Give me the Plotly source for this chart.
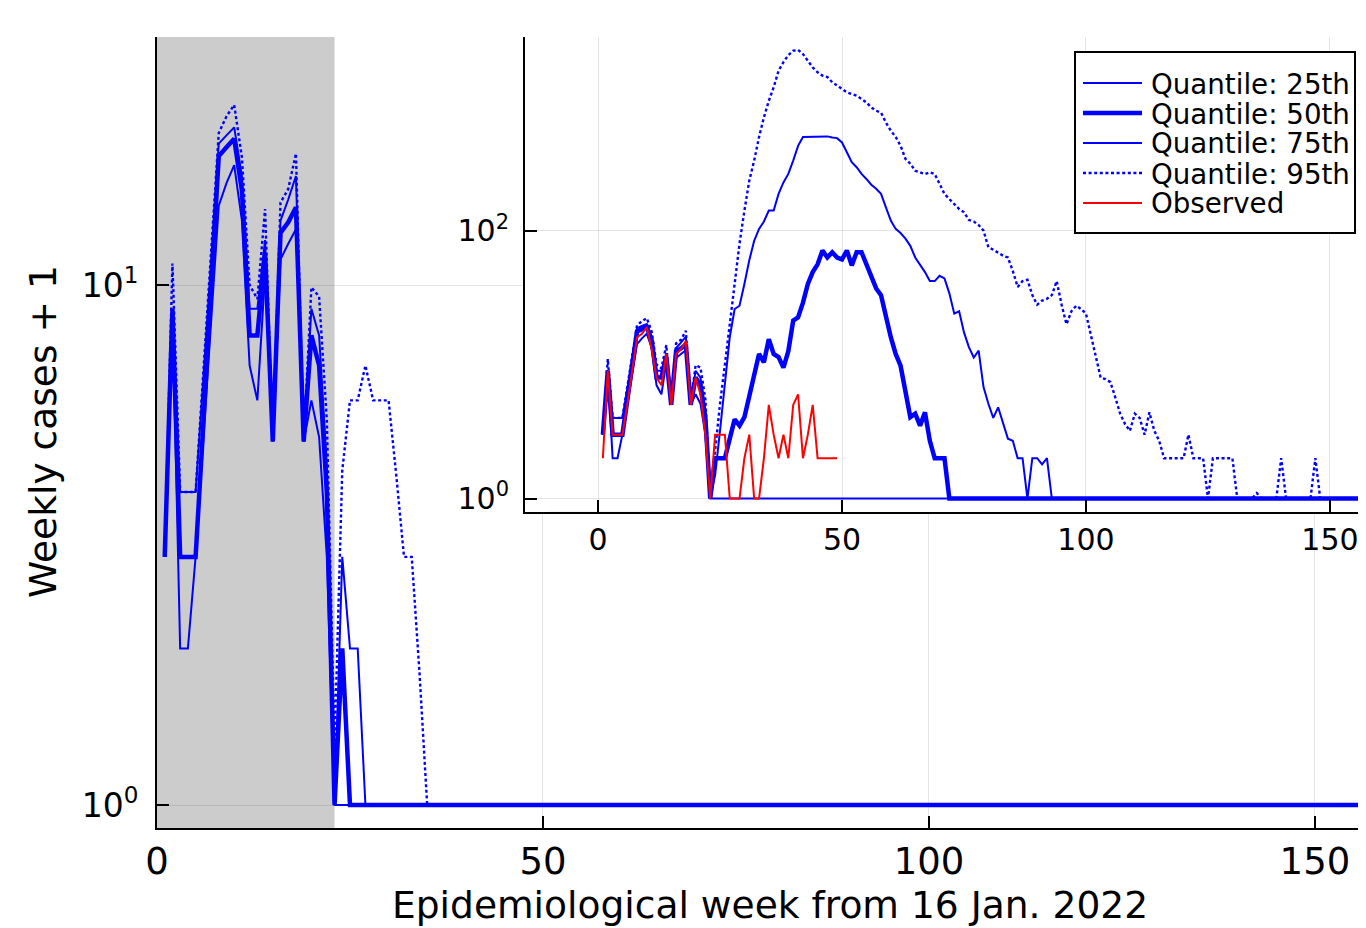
import plotly.graph_objects as go

# ---------------- data ----------------
weeks = list(range(1, 157))          # epidemiological week index
obs_weeks = list(range(1, 50))
fit_period = [-10, 23]               # shaded fitting window (weeks)

# quantiles (weekly cases + 1) during the fitting window, weeks 1-22 (shared)
fit_q25 = [3, 9, 2, 2, 3, 5.0, 8.4, 14.2, 15.7, 17.0, 13.3, 7, 6, 10.5, 5, 11.2, 12.0, 12.8, 5, 6, 5.1, 3]
fit_q50 = [3, 9, 3, 3, 3, 5.4, 9.8, 17.7, 18.4, 19.1, 15.2, 8, 8, 11.5, 5, 12.6, 13.2, 14.1, 5, 8, 7, 4]
fit_q75 = [3, 9, 4, 4, 4, 6.6, 11.1, 18.7, 19.4, 20.1, 16.2, 9, 9, 12.2, 5, 13.3, 14.6, 16.2, 5, 9, 8, 4.5]
fit_q95 = [3, 11, 4, 4, 4, 6.8, 11.6, 19.6, 21.1, 22.2, 17.6, 10, 9.4, 14, 5, 14.4, 15.3, 17.9, 5, 9.9, 9.5, 5.5]

# main panel forecasts, weeks 23-156
main_fc_q25 = [
    1, 1, 1, 1, 1, 1, 1, 1, 1, 1,
    1, 1, 1, 1, 1, 1, 1, 1, 1, 1,
    1, 1, 1, 1, 1, 1, 1, 1, 1, 1,
    1, 1, 1, 1, 1, 1, 1, 1, 1, 1,
    1, 1, 1, 1, 1, 1, 1, 1, 1, 1,
    1, 1, 1, 1, 1, 1, 1, 1, 1, 1,
    1, 1, 1, 1, 1, 1, 1, 1, 1, 1,
    1, 1, 1, 1, 1, 1, 1, 1, 1, 1,
    1, 1, 1, 1, 1, 1, 1, 1, 1, 1,
    1, 1, 1, 1, 1, 1, 1, 1, 1, 1,
    1, 1, 1, 1, 1, 1, 1, 1, 1, 1,
    1, 1, 1, 1, 1, 1, 1, 1, 1, 1,
    1, 1, 1, 1, 1, 1, 1, 1, 1, 1,
    1, 1, 1, 1]
main_fc_q50 = [
    1, 2, 1, 1, 1, 1, 1, 1, 1, 1,
    1, 1, 1, 1, 1, 1, 1, 1, 1, 1,
    1, 1, 1, 1, 1, 1, 1, 1, 1, 1,
    1, 1, 1, 1, 1, 1, 1, 1, 1, 1,
    1, 1, 1, 1, 1, 1, 1, 1, 1, 1,
    1, 1, 1, 1, 1, 1, 1, 1, 1, 1,
    1, 1, 1, 1, 1, 1, 1, 1, 1, 1,
    1, 1, 1, 1, 1, 1, 1, 1, 1, 1,
    1, 1, 1, 1, 1, 1, 1, 1, 1, 1,
    1, 1, 1, 1, 1, 1, 1, 1, 1, 1,
    1, 1, 1, 1, 1, 1, 1, 1, 1, 1,
    1, 1, 1, 1, 1, 1, 1, 1, 1, 1,
    1, 1, 1, 1, 1, 1, 1, 1, 1, 1,
    1, 1, 1, 1]
main_fc_q75 = [
    1, 3, 2, 2, 1, 1, 1, 1, 1, 1,
    1, 1, 1, 1, 1, 1, 1, 1, 1, 1,
    1, 1, 1, 1, 1, 1, 1, 1, 1, 1,
    1, 1, 1, 1, 1, 1, 1, 1, 1, 1,
    1, 1, 1, 1, 1, 1, 1, 1, 1, 1,
    1, 1, 1, 1, 1, 1, 1, 1, 1, 1,
    1, 1, 1, 1, 1, 1, 1, 1, 1, 1,
    1, 1, 1, 1, 1, 1, 1, 1, 1, 1,
    1, 1, 1, 1, 1, 1, 1, 1, 1, 1,
    1, 1, 1, 1, 1, 1, 1, 1, 1, 1,
    1, 1, 1, 1, 1, 1, 1, 1, 1, 1,
    1, 1, 1, 1, 1, 1, 1, 1, 1, 1,
    1, 1, 1, 1, 1, 1, 1, 1, 1, 1,
    1, 1, 1, 1]
main_fc_q95 = [
    1.3, 4.4, 6, 6, 7, 6, 6, 6, 4.3, 3,
    3, 1.8, 1, 1, 1, 1, 1, 1, 1, 1,
    1, 1, 1, 1, 1, 1, 1, 1, 1, 1,
    1, 1, 1, 1, 1, 1, 1, 1, 1, 1,
    1, 1, 1, 1, 1, 1, 1, 1, 1, 1,
    1, 1, 1, 1, 1, 1, 1, 1, 1, 1,
    1, 1, 1, 1, 1, 1, 1, 1, 1, 1,
    1, 1, 1, 1, 1, 1, 1, 1, 1, 1,
    1, 1, 1, 1, 1, 1, 1, 1, 1, 1,
    1, 1, 1, 1, 1, 1, 1, 1, 1, 1,
    1, 1, 1, 1, 1, 1, 1, 1, 1, 1,
    1, 1, 1, 1, 1, 1, 1, 1, 1, 1,
    1, 1, 1, 1, 1, 1, 1, 1, 1, 1,
    1, 1, 1, 1]

# inset panel forecasts, weeks 23-156
inset_fc_q25 = [
    1, 1, 1, 1, 1, 1, 1, 1, 1, 1,
    1, 1, 1, 1, 1, 1, 1, 1, 1, 1,
    1, 1, 1, 1, 1, 1, 1, 1, 1, 1,
    1, 1, 1, 1, 1, 1, 1, 1, 1, 1,
    1, 1, 1, 1, 1, 1, 1, 1, 1, 1,
    1, 1, 1, 1, 1, 1, 1, 1, 1, 1,
    1, 1, 1, 1, 1, 1, 1, 1, 1, 1,
    1, 1, 1, 1, 1, 1, 1, 1, 1, 1,
    1, 1, 1, 1, 1, 1, 1, 1, 1, 1,
    1, 1, 1, 1, 1, 1, 1, 1, 1, 1,
    1, 1, 1, 1, 1, 1, 1, 1, 1, 1,
    1, 1, 1, 1, 1, 1, 1, 1, 1, 1,
    1, 1, 1, 1, 1, 1, 1, 1, 1, 1,
    1, 1, 1, 1]
inset_fc_q50 = [
    1, 2, 2, 2, 2.8, 3.9, 3.5, 4.05, 5.8, 8.4,
    12, 10.4, 15.5, 12, 11.4, 9.5, 12.6, 21.3, 22.5, 29,
    40, 49, 56, 71, 63, 69, 63, 61, 71, 55,
    69, 69, 56, 45, 37, 33, 22.5, 16, 12, 9.8,
    6.3, 4.05, 4.3, 3.5, 4.4, 2.7, 2, 2, 2, 1,
    1, 1, 1, 1, 1, 1, 1, 1, 1, 1,
    1, 1, 1, 1, 1, 1, 1, 1, 1, 1,
    1, 1, 1, 1, 1, 1, 1, 1, 1, 1,
    1, 1, 1, 1, 1, 1, 1, 1, 1, 1,
    1, 1, 1, 1, 1, 1, 1, 1, 1, 1,
    1, 1, 1, 1, 1, 1, 1, 1, 1, 1,
    1, 1, 1, 1, 1, 1, 1, 1, 1, 1,
    1, 1, 1, 1, 1, 1, 1, 1, 1, 1,
    1, 1, 1, 1]
inset_fc_q75 = [
    1, 1.5, 3.2, 7.2, 16, 26, 27.5, 40, 60, 84,
    103, 117, 141, 141, 188, 229, 265, 333, 429, 500,
    500, 500, 505, 500, 505, 495, 490, 455, 384, 324,
    297, 265, 243, 220, 205, 188, 149, 119, 103, 96,
    87, 77, 63, 56, 49, 42, 42, 46, 44, 34,
    24, 25, 17.4, 13.5, 11.3, 12.7, 6.8, 5.1, 4.0, 4.8,
    3.7, 2.8, 2.7, 2, 2, 1, 2, 2, 1.8, 2,
    1, 1, 1, 1, 1, 1, 1, 1, 1, 1,
    1, 1, 1, 1, 1, 1, 1, 1, 1, 1,
    1, 1, 1, 1, 1, 1, 1, 1, 1, 1,
    1, 1, 1, 1, 1, 1, 1, 1, 1, 1,
    1, 1, 1, 1, 1, 1, 1, 1, 1, 1,
    1, 1, 1, 1, 1, 1, 1, 1, 1, 1,
    1, 1, 1, 1]
inset_fc_q95 = [
    1, 2.3, 5.1, 10, 20, 38, 80, 141, 236, 333,
    500, 700, 930, 1175, 1560, 1810, 2040, 2200, 2230, 2080,
    1850, 1650, 1520, 1435, 1400, 1280, 1210, 1140, 1075, 1045,
    1015, 960, 905, 830, 785, 760, 640, 557, 500, 430,
    343, 316, 280, 272, 264, 272, 264, 223, 188, 172,
    158, 145, 137, 120, 117, 110, 100, 75, 72, 68,
    65, 63, 50, 38, 42, 43, 33, 28, 30, 31,
    33, 42, 28, 20, 25, 27.5, 26, 24, 16.6, 11.2,
    8, 7.8, 7.4, 5.7, 4.3, 3.6, 3.2, 4.3, 4.0, 3.0,
    4.4, 3.2, 2.7, 2, 2, 2, 2, 2, 3, 2,
    2, 2, 1, 2, 2, 2, 2, 2, 1, 1,
    1, 1, 1.1, 1, 1, 1, 1, 2, 1, 1,
    1, 1, 1, 1, 2, 1, 1, 1, 1, 1,
    1, 1, 1, 1]

# observed weekly cases + 1, weeks 1-49
observed = [2, 9, 3, 3, 3, 5, 9, 16, 17, 19,
            13, 8, 7, 12, 5, 12, 13, 15, 5, 8,
            6, 3, 1, 3, 3, 3, 1, 1, 1, 2,
            3, 1, 1, 2, 5, 3, 2, 3, 2, 5,
            6, 2, 3, 5, 2, 2, 2, 2, 2]

quantile_names = ["Quantile: 25th", "Quantile: 50th", "Quantile: 75th", "Quantile: 95th"]
observed_name = "Observed"
x_title = "Epidemiological week from 16 Jan. 2022"
y_title = "Weekly cases + 1"

main_series = [fit_q25 + main_fc_q25, fit_q50 + main_fc_q50,
               fit_q75 + main_fc_q75, fit_q95 + main_fc_q95]
inset_series = [fit_q25 + inset_fc_q25, fit_q50 + inset_fc_q50,
                fit_q75 + inset_fc_q75, fit_q95 + inset_fc_q95]
for s in main_series + inset_series:
    if len(s) != len(weeks):
        raise ValueError("length mismatch %d" % len(s))
if len(observed) != len(obs_weeks):
    raise ValueError("observed length mismatch")

# ---------------- styles ----------------
BLUE = "#0000ff"
RED = "#ff0000"
GRAY = "rgb(204,204,204)"
FONT = "DejaVu Sans"
DOT = "3px,2.6px"
line_styles = [dict(width=2, dash="solid"), dict(width=4.5, dash="solid"),
               dict(width=2, dash="solid"), dict(width=2.4, dash=DOT)]

# page body has an 8px margin: figure is sized/offset to land on the 1366x928 frame
PAGE_OFF = 8
W, H = 1366 - PAGE_OFF, 928 - PAGE_OFF
ML, MR, MT, MB = 157 - PAGE_OFF, 4, 37 - PAGE_OFF, 100
PW = 1366 - 157 - MR          # plot width in px
PH = 828 - 37                 # plot height in px


def px_to_paper(px, py):
    return (px - 157) / PW, (828 - py) / PH


fig = go.Figure()

for name, ys, st in zip(quantile_names, main_series, line_styles):
    fig.add_trace(go.Scatter(x=weeks, y=ys, mode="lines", name=name, showlegend=False,
                             line=dict(color=BLUE, width=st["width"], dash=st["dash"]),
                             xaxis="x", yaxis="y"))

for name, ys, st in zip(quantile_names, inset_series, line_styles):
    fig.add_trace(go.Scatter(x=weeks, y=ys, mode="lines", name=name, showlegend=False,
                             line=dict(color=BLUE, width=st["width"], dash=st["dash"]),
                             xaxis="x2", yaxis="y2"))
fig.add_trace(go.Scatter(x=obs_weeks, y=observed, mode="lines", name=observed_name,
                         showlegend=False, line=dict(color=RED, width=2),
                         xaxis="x2", yaxis="y2"))

axis_common = dict(showline=True, linecolor="black", linewidth=2, mirror=False,
                   ticks="inside", ticklen=12, tickwidth=2, tickcolor="black",
                   showgrid=True, gridcolor="rgba(0,0,0,0.1)", gridwidth=1,
                   zeroline=False)

# ---- hand-drawn legend box inside the inset ----
legend_entries = [(quantile_names[0], BLUE, 2, "solid"),
                  (quantile_names[1], BLUE, 4.5, "solid"),
                  (quantile_names[2], BLUE, 2, "solid"),
                  (quantile_names[3], BLUE, 2.4, DOT),
                  (observed_name, RED, 2, "solid")]
bx0, by0 = px_to_paper(1075, 233)
bx1, by1 = px_to_paper(1355, 52)
shapes = [
    dict(type="rect", xref="x", yref="y domain", x0=fit_period[0], x1=fit_period[1],
         y0=0, y1=1, fillcolor=GRAY, line=dict(width=0), layer="below"),
    dict(type="rect", xref="x2", yref="y2 domain", x0=fit_period[0], x1=fit_period[1],
         y0=0, y1=1, fillcolor=GRAY, line=dict(width=0), layer="below"),
    dict(type="rect", xref="paper", yref="paper", x0=bx0, x1=bx1, y0=by0, y1=by1,
         fillcolor="white", line=dict(color="black", width=2), layer="above"),
]
annotations = [
    dict(text=x_title, xref="paper", yref="paper",
         x=px_to_paper(770, 0)[0], y=px_to_paper(0, 905)[1],
         xanchor="center", yanchor="middle", showarrow=False, font=dict(size=37.6)),
    dict(text=y_title, xref="paper", yref="paper",
         x=px_to_paper(43, 0)[0], y=px_to_paper(0, 432)[1],
         xanchor="center", yanchor="middle", showarrow=False, textangle=-90,
         font=dict(size=37.6)),
]
for i, (label, col, wdt, dsh) in enumerate(legend_entries):
    yc = 83 + 30 * i
    lx0, ly = px_to_paper(1083, yc)
    lx1, _ = px_to_paper(1142, yc)
    shapes.append(dict(type="line", xref="paper", yref="paper", x0=lx0, x1=lx1, y0=ly, y1=ly,
                       line=dict(color=col, width=wdt, dash=dsh), layer="above"))
    tx, ty = px_to_paper(1149, yc + 1)
    annotations.append(dict(text=label, xref="paper", yref="paper", x=tx, y=ty,
                            xanchor="left", yanchor="middle", showarrow=False,
                            font=dict(size=27.7)))

fig.update_layout(
    width=W, height=H,
    margin=dict(l=ML, r=MR, t=MT, b=MB, pad=0),
    paper_bgcolor="white", plot_bgcolor="white",
    font=dict(family=FONT, color="black"),
    showlegend=False,
    xaxis=dict(domain=[0, 1], range=[0, 156.1], tickvals=[0, 50, 100, 150],
               tickfont=dict(size=37), anchor="y", **axis_common),
    yaxis=dict(domain=[0, 1], type="log", range=[-0.0442, 1.4769],
               tickvals=[1, 10], ticktext=["10<sup>0</sup>", "10<sup>1</sup>"],
               tickfont=dict(size=33), ticklabelstandoff=10, anchor="x", **axis_common),
    xaxis2=dict(domain=[px_to_paper(525, 0)[0], 1], range=[-14.96, 156.56],
                tickvals=[0, 50, 100, 150], tickfont=dict(size=30), anchor="y2",
                **axis_common),
    yaxis2=dict(domain=[px_to_paper(0, 511.7)[1], 1.0], type="log", range=[-0.098, 3.445],
                tickvals=[1, 100], ticktext=["10<sup>0</sup>", "10<sup>2</sup>"],
                tickfont=dict(size=30), ticklabelstandoff=8, anchor="x2", **axis_common),
    shapes=shapes,
    annotations=annotations,
)

fig.write_html("out.html")
